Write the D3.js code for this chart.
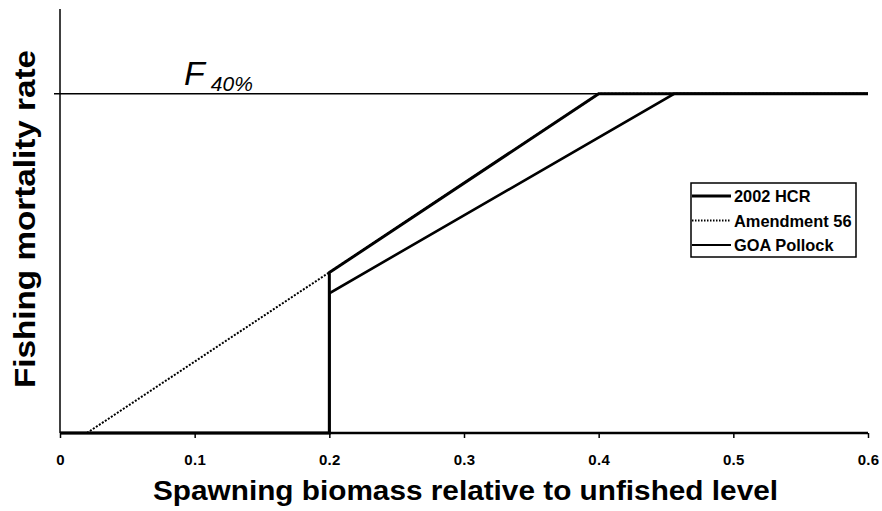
<!DOCTYPE html>
<html>
<head>
<meta charset="utf-8">
<script src="https://cdn.jsdelivr.net/npm/d3@7"></script>
<style>
body { margin: 0; background: #fff; }
text { font-family: Arial, "Liberation Sans", sans-serif; }
</style>
</head>
<body>
<script>
// spawning biomass (relative) and F (relative to F40%)
var hcrX = [0, 0.2, 0.2, 0.4, 0.6]
var hcrY = [0, 0, 0.473, 1, 1]
var amendX = [0.02, 0.4, 0.6]
var amendY = [0, 1, 1]
var goaX = [0.2, 0.2, 0.456, 0.6]
var goaY = [0, 0.412, 1, 1]
var xTicks = [0, 0.1, 0.2, 0.3, 0.4, 0.5, 0.6]
var f40 = 1
var legendNames = ["2002 HCR", "Amendment 56", "GOA Pollock"]

var svg = d3.select("body")
  .append("svg")
  .attr("width", 882)
  .attr("height", 511)

var x = d3.scaleLinear().domain([0, 0.6]).range([60, 868])
var y = d3.scaleLinear().domain([0, 1.25]).range([433, 9])

function pts(xs, ys) { return xs.map(function(d, i) { return [d, ys[i]] }) }
var line = d3.line().x(function(d) { return x(d[0]) }).y(function(d) { return y(d[1]) })

// F40% reference line
svg.append("line")
  .attr("x1", x(0) - 6).attr("x2", x(0.6))
  .attr("y1", y(f40)).attr("y2", y(f40))
  .attr("stroke", "#000").attr("stroke-width", 1.6)

// y axis (no labels)
svg.append("line")
  .attr("x1", x(0)).attr("x2", x(0))
  .attr("y1", y(1.25)).attr("y2", y(0))
  .attr("stroke", "#000").attr("stroke-width", 1.5)

// x axis
var xAxis = svg.append("g")
  .attr("transform", "translate(0," + y(0) + ")")
  .call(d3.axisBottom(x).tickValues(xTicks).tickSize(5).tickPadding(16)
    .tickFormat(function(d) { return d === 0 ? "0" : d3.format(".1f")(d) }))
xAxis.attr("font-size", 15).attr("font-family", null)
xAxis.select(".domain").attr("stroke-width", 2.5).attr("d", "M" + x(0) + ",0H" + x(0.6))
xAxis.selectAll(".tick line").attr("stroke-width", 1.5)
xAxis.selectAll(".tick text")
  .style("font-size", "15px").style("font-weight", "bold")
  .style("letter-spacing", "0.3px").attr("fill", "#000")

// series
svg.append("path").datum(pts(amendX, amendY))
  .attr("d", line).attr("fill", "none")
  .attr("stroke", "#000").attr("stroke-width", 2).attr("stroke-dasharray", "2,1.6")
svg.append("path").datum(pts(goaX, goaY))
  .attr("d", line).attr("fill", "none")
  .attr("stroke", "#000").attr("stroke-width", 2.6)
svg.append("path").datum(pts(hcrX, hcrY))
  .attr("d", line).attr("fill", "none")
  .attr("stroke", "#000").attr("stroke-width", 3)

// F40% label
var fl = svg.append("text")
  .attr("x", 184).attr("y", 85)
  .attr("font-style", "italic").attr("font-size", "34px")
fl.append("tspan").text("F")
fl.append("tspan").attr("font-size", "21px").attr("dx", 6).attr("dy", 6).text("40%")

// axis titles
svg.append("text")
  .attr("x", 153).attr("y", 500)
  .attr("font-size", "27px").attr("font-weight", "bold")
  .attr("textLength", 625).attr("lengthAdjust", "spacingAndGlyphs")
  .text("Spawning biomass relative to unfished level")

svg.append("text")
  .attr("transform", "translate(35,388) rotate(-90)")
  .attr("font-size", "29px").attr("font-weight", "bold")
  .attr("textLength", 338).attr("lengthAdjust", "spacingAndGlyphs")
  .text("Fishing mortality rate")

// legend
var lg = svg.append("g").attr("transform", "translate(691,183)")
lg.append("rect")
  .attr("width", 165).attr("height", 74)
  .attr("fill", "#fff").attr("stroke", "#000").attr("stroke-width", 1.5)
var styles = [
  { w: 3, dash: null },
  { w: 1.8, dash: "1.5,1.5" },
  { w: 2.2, dash: null }
]
var rows = lg.selectAll("g.row").data(legendNames).enter()
  .append("g").attr("class", "row")
  .attr("transform", function(d, i) { return "translate(0," + (13 + i * 24.5) + ")" })
rows.append("line")
  .attr("x1", 1).attr("x2", 40)
  .attr("stroke", "#000")
  .attr("stroke-width", function(d, i) { return styles[i].w })
  .attr("stroke-dasharray", function(d, i) { return styles[i].dash })
rows.append("text")
  .attr("x", 43).attr("y", 6)
  .attr("font-size", "16.4px").attr("font-weight", "bold")
  .text(function(d) { return d })
</script>
</body>
</html>
